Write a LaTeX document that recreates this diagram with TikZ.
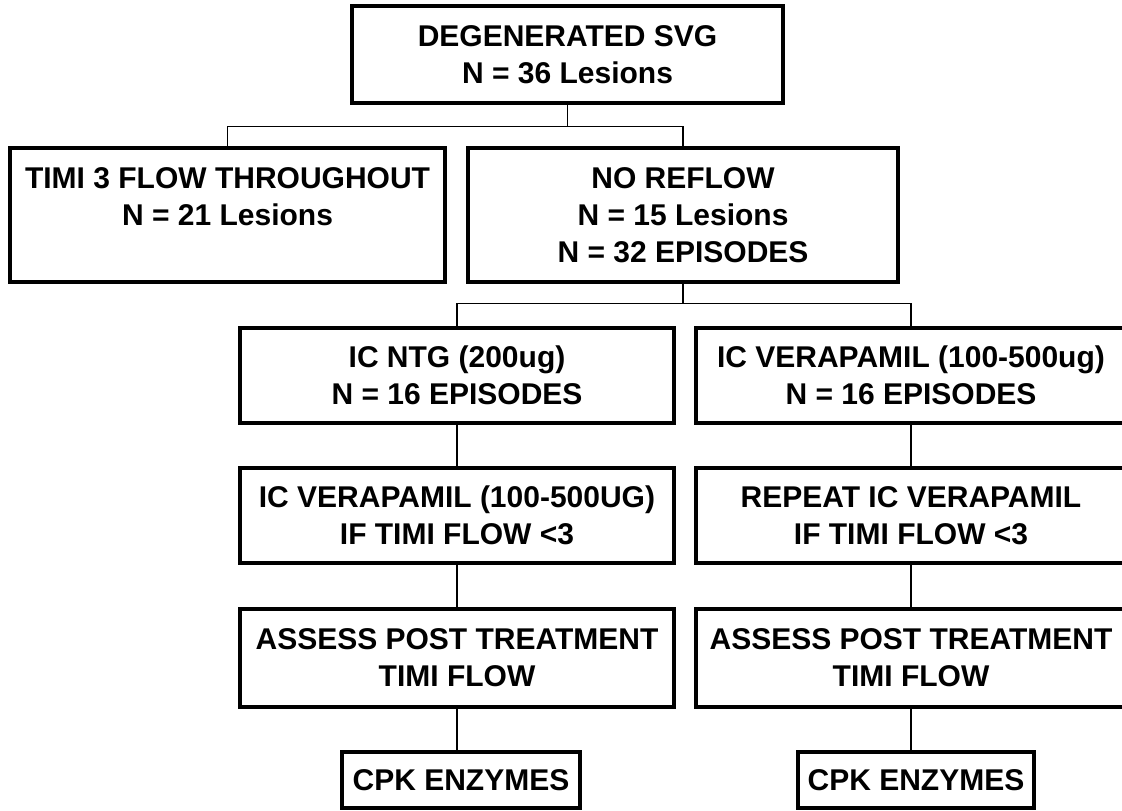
\documentclass[tikz,border=0pt]{standalone}
\usepackage{fontspec}
\setmainfont{Liberation Sans}
\usepackage{tikz}
\usetikzlibrary{positioning}
\tikzset{
  box/.style={draw, rectangle, line width=3.2pt, inner sep=0pt, align=center,
              font=\fontsize{30}{37}\selectfont\bfseries},
  link/.style={line width=1.4pt},
}

\begin{document}
\begin{tikzpicture}[x=1pt, y=-1pt]
    \path[use as bounding box] (0,0) rectangle (1122,811);
    \clip (0,0) rectangle (1122,811);
    % first split
    \node[box, minimum width=431pt, minimum height=97pt] (svg) at (567.5,54.5)
      {DEGENERATED SVG\\N = 36 Lesions};
    \node[box, minimum width=435pt, minimum height=134pt] (timi) at (227.5,215)
      {TIMI 3 FLOW THROUGHOUT\\N = 21 Lesions\\\mbox{}};
    \node[box, minimum width=430pt, minimum height=134pt] (noreflow) at (683,215)
      {NO REFLOW\\N = 15 Lesions\\N = 32 EPISODES};
    % two treatment arms
    \node[box, minimum width=434pt, minimum height=95pt] (ntg) at (457,375.5)
      {IC NTG (200ug)\\N = 16 EPISODES};
    \node[box, minimum width=430pt, minimum height=95pt] (vera) at (911,375.5)
      {IC VERAPAMIL (100-500ug)\\N = 16 EPISODES};
    \node[box, minimum width=434pt, minimum height=95pt] (ntgvera) at (457,515.5)
      {IC VERAPAMIL (100-500UG)\\IF TIMI FLOW <3};
    \node[box, minimum width=430pt, minimum height=95pt] (verarep) at (911,515.5)
      {REPEAT IC VERAPAMIL\\IF TIMI FLOW <3};
    \node[box, minimum width=434pt, minimum height=98pt] (assessl) at (457,658)
      {ASSESS POST TREATMENT\\TIMI FLOW};
    \node[box, minimum width=430pt, minimum height=98pt] (assessr) at (911,658)
      {ASSESS POST TREATMENT\\TIMI FLOW};
    \node[box, minimum width=238pt, minimum height=56pt] (cpkl) at (461,780)
      {CPK ENZYMES};
    \node[box, minimum width=236pt, minimum height=56pt] (cpkr) at (916,780)
      {CPK ENZYMES};
    % connectors
    \draw[link] (svg.south) -- ++(0,22) coordinate (j1);
    \draw[link] (j1) -| (timi.north);
    \draw[link] (j1) -| (noreflow.north);
    \draw[link] (noreflow.south) -- ++(0,20) coordinate (j2);
    \draw[link] (j2) -| (ntg.north);
    \draw[link] (j2) -| (vera.north);
    \draw[link] (ntg.south) -- (ntgvera.north);
    \draw[link] (vera.south) -- (verarep.north);
    \draw[link] (ntgvera.south) -- (assessl.north);
    \draw[link] (verarep.south) -- (assessr.north);
    \draw[link] (assessl.south) -- (assessl.south |- cpkl.north);
    \draw[link] (assessr.south) -- (assessr.south |- cpkr.north);
\end{tikzpicture}
\end{document}
